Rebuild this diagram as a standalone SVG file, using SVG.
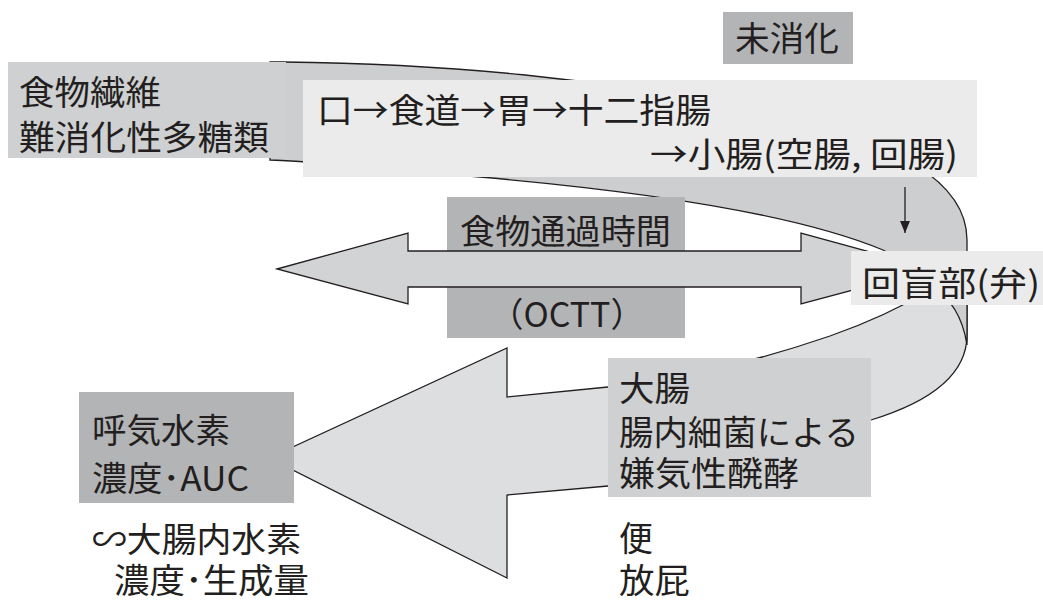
<svg xmlns="http://www.w3.org/2000/svg" width="1043" height="601" viewBox="0 0 1043 601">
<style>
.t{font-family:"Noto Sans CJK JP","Noto Sans",sans-serif;font-size:34px;fill:#231f20}
.sh{stroke:#231f20;stroke-width:1.3;stroke-linejoin:miter}
.dark{fill:#b3b4b6}
.mid{fill:#cfd0d2}
.light{fill:#ebebeb}
</style>
<defs>
<marker id="ah" viewBox="0 0 12 10" refX="12" refY="5" markerWidth="12" markerHeight="10" markerUnits="userSpaceOnUse" orient="auto">
<path d="M0,0 L12,5 L0,10 Z" fill="#231f20"/>
</marker>
</defs>
<rect width="1043" height="601" fill="#ffffff"/>

<g id="connectors">
<path id="lower-arrow" class="sh" fill="#dddee0" d="M967,280 L967,335 C967,380 920,405 871,420 C800,445 700,480 608,486 L507,495 L507,578 L269,458 L507,348 L507,397 L608,387 C690,378 760,360 830,336 C870,322 900,308 930,290 Z"/>
<path id="upper-band" class="sh" fill="#cdced0" d="M270,62 L283,62 C450,64 600,78 750,110 C880,135 967,175 967,240 L967,345 C964,325 955,300 930,285 C910,270 900,258 883,250 C830,228 720,198 480,177 C400,170 330,162 270,160 Z"/>
<line x1="905" y1="187" x2="905" y2="233" stroke="#231f20" stroke-width="1.3" marker-end="url(#ah)"/>
</g>

<g id="n-time">
<rect class="dark" x="447" y="197" width="238" height="54"/>
<text class="t" x="460" y="244" textLength="211" lengthAdjust="spacingAndGlyphs">食物通過時間</text>
</g>
<g id="n-octt">
<rect class="dark" x="447" y="287" width="238" height="51"/>
<text class="t" x="567" y="327" text-anchor="middle">（OCTT）</text>
</g>

<g id="double-arrow">
<path class="sh" fill="#d2d3d5" d="M277,269 L408,233 L408,251 L801,251 L801,233 L932,269 L801,304 L801,287 L408,287 L408,304 Z"/>
</g>

<g id="n-fiber">
<rect class="mid" x="8" y="62" width="278" height="96"/>
<text class="t" x="19" y="105" textLength="142" lengthAdjust="spacingAndGlyphs">食物繊維</text>
<text class="t" x="19" y="150" textLength="250" lengthAdjust="spacingAndGlyphs">難消化性多糖類</text>
</g>

<g id="n-route">
<rect class="light" x="303" y="80" width="674" height="97"/>
<text class="t" x="317" y="123" textLength="394" lengthAdjust="spacingAndGlyphs">口→食道→胃→十二指腸</text>
<text class="t" x="650" y="167" textLength="308" lengthAdjust="spacingAndGlyphs">→小腸(空腸, 回腸)</text>
</g>

<g id="n-undigested">
<rect class="dark" x="723" y="12" width="130" height="52"/>
<text class="t" x="735" y="51" font-size="32" textLength="104" lengthAdjust="spacingAndGlyphs">未消化</text>
</g>

<g id="n-ileocecal">
<rect class="light" x="851" y="251" width="192" height="54"/>
<text class="t" x="862" y="296" textLength="178" lengthAdjust="spacingAndGlyphs">回盲部(弁)</text>
</g>

<g id="n-colon">
<rect class="mid" x="608" y="358" width="263" height="139"/>
<text class="t" x="619" y="401" textLength="71" lengthAdjust="spacingAndGlyphs">大腸</text>
<text class="t" x="619" y="445" textLength="240" lengthAdjust="spacingAndGlyphs">腸内細菌による</text>
<text class="t" x="619" y="486" textLength="180" lengthAdjust="spacingAndGlyphs">嫌気性醗酵</text>
</g>

<g id="n-breath">
<rect class="dark" x="79" y="392" width="215" height="111"/>
<text class="t" x="92" y="443" textLength="138" lengthAdjust="spacingAndGlyphs">呼気水素</text>
<text class="t" x="92" y="491" textLength="157" lengthAdjust="spacingAndGlyphs">濃度･AUC</text>
</g>

<g id="n-h2">
<text class="t" x="92" y="552" textLength="209" lengthAdjust="spacingAndGlyphs">∽大腸内水素</text>
<text class="t" x="114" y="593" textLength="195" lengthAdjust="spacingAndGlyphs">濃度･生成量</text>
</g>

<g id="n-stool">
<text class="t" x="619" y="551">便</text>
<text class="t" x="619" y="593" textLength="71" lengthAdjust="spacingAndGlyphs">放屁</text>
</g>
</svg>
